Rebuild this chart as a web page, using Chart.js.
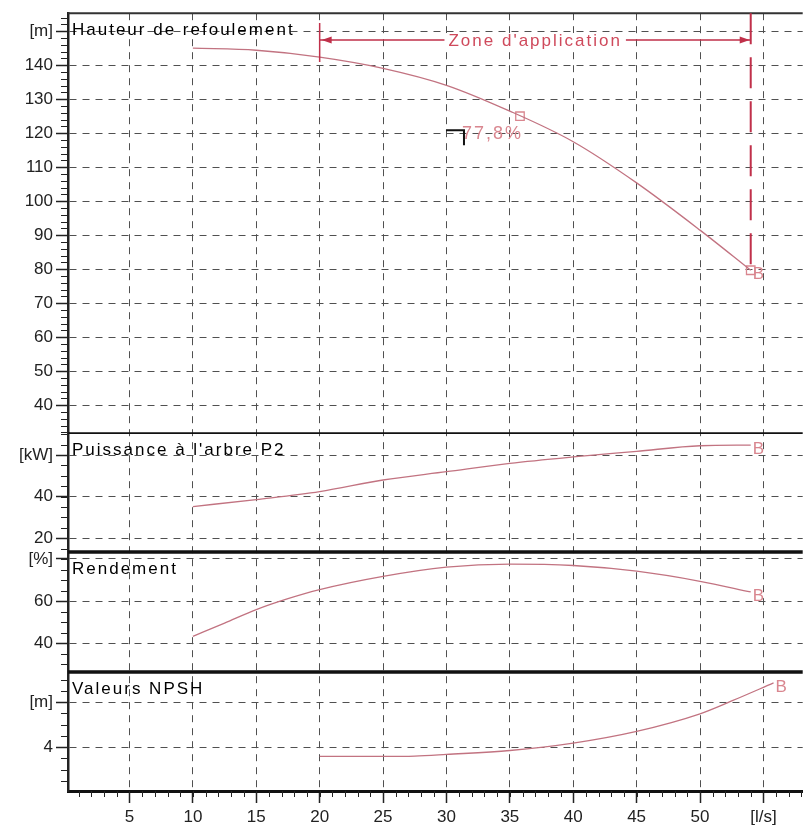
<!DOCTYPE html>
<html>
<head>
<meta charset="utf-8">
<script src="https://cdn.jsdelivr.net/npm/chart.js@4.4.3/dist/chart.umd.min.js"></script>
<style>
  html, body { margin: 0; padding: 0; background: #fff; }
  #wrap { width: 810px; height: 827px; }
</style>
</head>
<body>
<div id="wrap"><canvas id="pump" width="810" height="827"></canvas></div>
<script>
// flow [l/s] and curve values
const flowHead = [10, 15, 20, 25, 30, 35, 40, 45, 50, 54]
const headM = [145.0, 144.4, 142.4, 139.1, 134.1, 126.5, 117.5, 105.4, 91.5, 79.7]
const flowPower = [10, 15, 20, 25, 30, 35, 40, 45, 50, 54]
const powerKw = [35.2, 38.6, 42.4, 48.0, 52.0, 56.0, 59.1, 61.8, 64.5, 64.8]
const flowEff = [10, 12.5, 15, 17.5, 20, 25, 30, 35, 40, 45, 50, 54]
const effPct = [43.2, 49.5, 55.9, 61.1, 65.4, 71.7, 76.1, 77.6, 76.9, 74.2, 69.4, 64.3]
const flowNpsh = [20, 25, 27.5, 30, 35, 40, 45, 50, 52.5, 55.8]
const npshM = [3.17, 3.17, 3.2, 3.35, 3.7, 4.36, 5.4, 6.96, 8.1, 9.7]

const dutyFlow = [35.8]
const dutyHead = [125.0]
const dutyLabel = '77,8%'
const zoneFrom = 20
const zoneTo = 54
const zoneArrowHead = 147.4

const xTicks = [5, 10, 15, 20, 25, 30, 35, 40, 45, 50, 55]
const headTicks = [40, 50, 60, 70, 80, 90, 100, 110, 120, 130, 140, 150]
const powerTicks = [20, 40, 60]
const effTicks = [40, 60, 80]
const npshTicks = [4, 8]

const CURVE = '#c27381'
const PINK = '#d9868f'
const RED = '#c0304a'
const GRID = '#505050'
const FONT = '"Liberation Sans", Arial, sans-serif'

const pts = (xs, ys) => xs.map((x, i) => ({x: x, y: ys[i]}))

function yAxis(ticks, min, max, weight, unit) {
  return {
    type: 'linear',
    position: 'left',
    stack: 'panels',
    stackWeight: weight,
    min: min,
    max: max,
    afterBuildTicks: (s) => { s.ticks = ticks.map(v => ({value: v})) },
    afterFit: (s) => { s.width = 68 },
    ticks: {
      autoSkip: false,
      padding: 3,
      color: '#222',
      font: {family: FONT, size: 17},
      callback: (v) => v === ticks[ticks.length - 1] ? unit : v
    },
    grid: {color: GRID, lineWidth: 1, tickLength: 12, tickColor: '#222', tickWidth: 1.5},
    border: {display: true, color: '#222', width: 2.5, dash: [7, 6]}
  }
}

function curve(xs, ys, axis) {
  return {
    data: pts(xs, ys),
    yAxisID: axis,
    borderColor: CURVE,
    borderWidth: 1.3,
    pointRadius: 0,
    fill: false,
    cubicInterpolationMode: 'monotone'
  }
}

function minorTicks(ctx, scale, step, len, vertical) {
  ctx.beginPath()
  for (let k = Math.ceil(scale.min / step); k * step <= scale.max; k++) {
    const p = Math.round(scale.getPixelForValue(k * step)) + 0.5
    if (vertical) { ctx.moveTo(scale.right - len, p); ctx.lineTo(scale.right, p) }
    else { ctx.moveTo(p, scale.top); ctx.lineTo(p, scale.top + len) }
  }
  ctx.stroke()
}

const overlay = {
  id: 'overlay',
  afterDraw(chart) {
    const {ctx, chartArea: a, scales} = chart
    const x = scales.x
    ctx.save()

    // minor ticks
    ctx.strokeStyle = '#222'
    ctx.lineWidth = 1
    minorTicks(ctx, scales.yH, 2, 7, true)
    minorTicks(ctx, scales.yP, 5, 7, true)
    minorTicks(ctx, scales.yE, 5, 7, true)
    minorTicks(ctx, scales.yN, 1, 7, true)
    minorTicks(ctx, x, 1, 6, false)

    // panel frames
    ctx.strokeStyle = '#111'
    const seps = [['yP', 1.8], ['yE', 3.4], ['yN', 3.4]]
    seps.forEach(([id, w]) => {
      ctx.lineWidth = w
      ctx.beginPath()
      ctx.moveTo(a.left, scales[id].top)
      ctx.lineTo(a.right, scales[id].top)
      ctx.stroke()
    })
    ctx.strokeStyle = '#333'
    ctx.lineWidth = 2
    ctx.beginPath()
    ctx.moveTo(a.left, a.top)
    ctx.lineTo(a.right, a.top)
    ctx.stroke()

    // panel titles
    ctx.letterSpacing = '2px'
    ctx.font = '17px ' + FONT
    ctx.fillStyle = '#000'
    ctx.textAlign = 'left'
    ctx.textBaseline = 'middle'
    const titles = [['yH', 'Hauteur de refoulement'], ['yP', "Puissance à l'arbre P2"],
      ['yE', 'Rendement'], ['yN', 'Valeurs NPSH']]
    titles.forEach(([id, t]) => ctx.fillText(t, a.left + 4, scales[id].top + 17))

    // zone d'application
    const yH = scales.yH
    const x1 = x.getPixelForValue(zoneFrom)
    const x2 = x.getPixelForValue(zoneTo)
    const ya = yH.getPixelForValue(zoneArrowHead)
    ctx.strokeStyle = RED
    ctx.fillStyle = RED
    ctx.lineWidth = 1.5
    ctx.beginPath()
    ctx.moveTo(x1, ya); ctx.lineTo(x2, ya)
    ctx.moveTo(x1, ya - 17); ctx.lineTo(x1, ya + 22)
    ctx.stroke()
    ctx.beginPath()
    ctx.moveTo(x1 + 2, ya); ctx.lineTo(x1 + 12, ya - 3.5); ctx.lineTo(x1 + 12, ya + 3.5)
    ctx.closePath()
    ctx.moveTo(x2 - 1, ya); ctx.lineTo(x2 - 11, ya - 3.5); ctx.lineTo(x2 - 11, ya + 3.5)
    ctx.closePath()
    ctx.fill()
    ctx.lineWidth = 2
    ctx.setLineDash([31, 13])
    ctx.beginPath()
    ctx.moveTo(x2, a.top)
    ctx.lineTo(x2, yH.getPixelForValue(headM[headM.length - 1]))
    ctx.stroke()
    ctx.setLineDash([])
    const zt = "Zone d'application"
    const zw = ctx.measureText(zt).width
    const zc = (x1 + x2) / 2
    ctx.fillStyle = '#fff'
    ctx.fillRect(zc - zw / 2 - 4, ya - 7, zw + 8, 14)
    ctx.fillStyle = '#cf4a5c'
    ctx.textAlign = 'center'
    ctx.fillText(zt, zc, ya + 1)

    // duty point label
    const dx = x.getPixelForValue(dutyFlow[0])
    const dy = yH.getPixelForValue(dutyHead[0])
    ctx.letterSpacing = '2px'
    ctx.font = '18px ' + FONT
    ctx.fillStyle = PINK
    ctx.textAlign = 'right'
    ctx.fillText(dutyLabel, dx + 3, dy + 18)
    ctx.strokeStyle = '#111'
    ctx.lineWidth = 2
    ctx.beginPath()
    ctx.moveTo(dx - 74, dy + 14)
    ctx.lineTo(dx - 56, dy + 14)
    ctx.lineTo(dx - 56, dy + 29)
    ctx.stroke()

    // end-of-curve "B" marks
    ctx.letterSpacing = '0px'
    ctx.font = '17px ' + FONT
    ctx.textAlign = 'left'
    ctx.fillStyle = PINK
    const ends = [['yH', flowHead, headM], ['yP', flowPower, powerKw],
      ['yE', flowEff, effPct], ['yN', flowNpsh, npshM]]
    ends.forEach(([id, xs, ys]) => {
      const n = xs.length - 1
      ctx.fillText('B', x.getPixelForValue(xs[n]) + 2, scales[id].getPixelForValue(ys[n]) + 4)
    })
    ctx.restore()
  }
}

Chart.defaults.font.family = FONT

new Chart(document.getElementById('pump'), {
  type: 'line',
  data: {
    datasets: [
      curve(flowHead, headM, 'yH'),
      curve(flowPower, powerKw, 'yP'),
      curve(flowEff, effPct, 'yE'),
      curve(flowNpsh, npshM, 'yN'),
      {
        data: pts(dutyFlow.concat([flowHead[flowHead.length - 1]]), dutyHead.concat([headM[headM.length - 1]])),
        yAxisID: 'yH',
        showLine: false,
        pointStyle: 'rect',
        pointRadius: 6,
        pointBorderWidth: 1.3,
        pointBorderColor: PINK,
        pointBackgroundColor: 'rgba(0,0,0,0)'
      }
    ]
  },
  options: {
    responsive: false,
    animation: false,
    devicePixelRatio: 1,
    layout: {padding: {top: 13, right: 0, bottom: 0, left: 0}},
    plugins: {legend: {display: false}, tooltip: {enabled: false}},
    scales: {
      x: {
        type: 'linear',
        position: 'bottom',
        min: 0.15,
        max: 58.1,
        afterBuildTicks: (s) => { s.ticks = xTicks.map(v => ({value: v})) },
        afterFit: (s) => { s.height = 36 },
        ticks: {
          autoSkip: false,
          maxRotation: 0,
          padding: 4,
          color: '#222',
          font: {family: FONT, size: 17},
          callback: (v) => v === 55 ? '[l/s]' : v
        },
        grid: {color: GRID, lineWidth: 1, tickLength: 12, tickColor: '#222', tickWidth: 1.5},
        border: {display: true, color: '#111', width: 3, dash: [7, 6]}
      },
      yN: yAxis(npshTicks, 0.1, 10.67, 119, '[m]'),
      yE: yAxis(effTicks, 26.2, 83.3, 120, '[%]'),
      yP: yAxis(powerTicks, 13.3, 70.6, 119, '[kW]'),
      yH: yAxis(headTicks, 31.8, 155.3, 420, '[m]')
    }
  },
  plugins: [overlay]
})
</script>
</body>
</html>
